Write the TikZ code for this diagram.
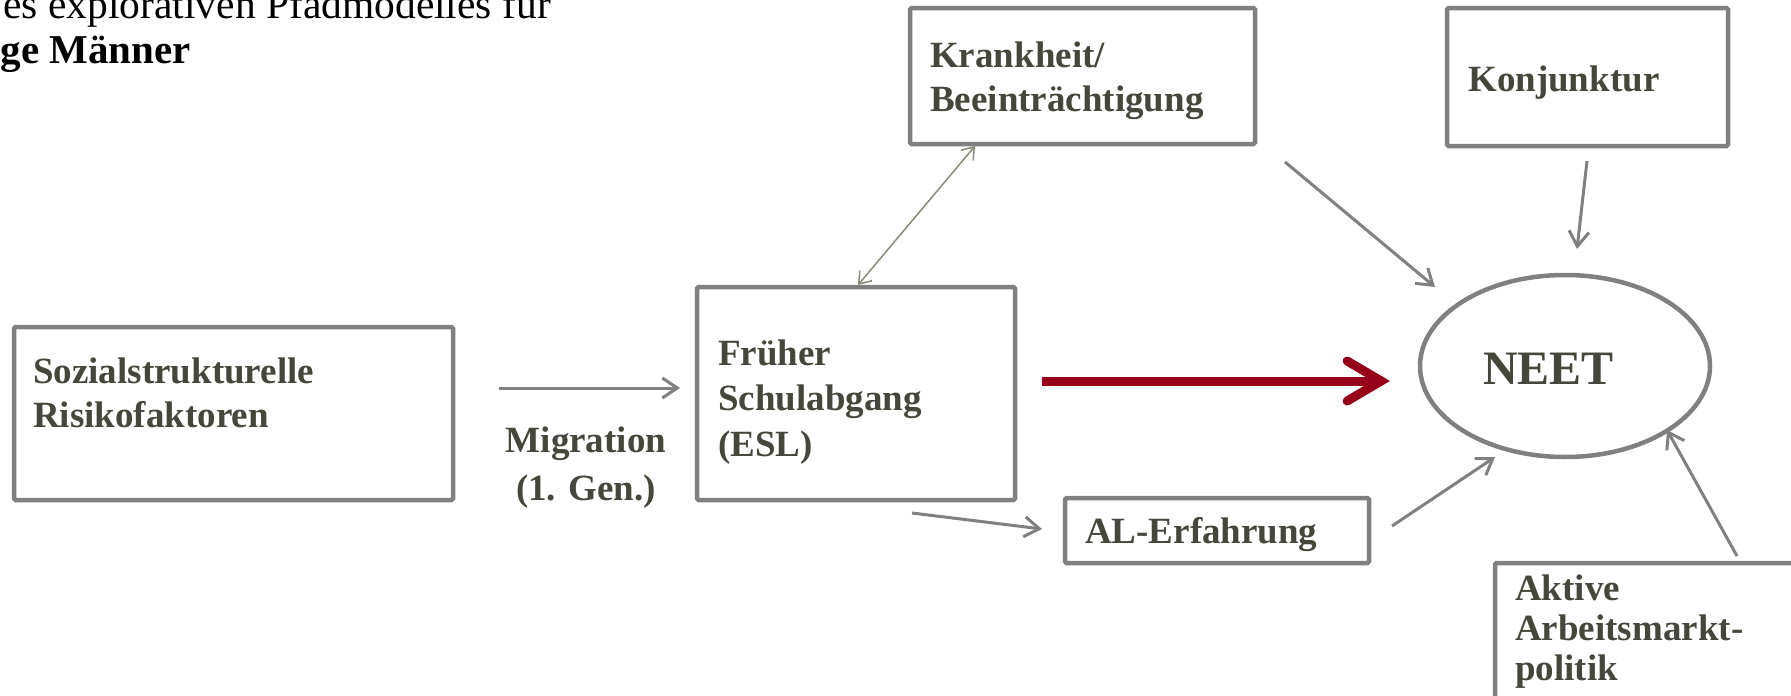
\documentclass[tikz,border=0pt]{standalone}
\usepackage{fontspec}
\setmainfont{Liberation Serif}
\usetikzlibrary{arrows.meta,shapes.geometric}
\definecolor{boxgray}{HTML}{808080}
\definecolor{txtolive}{HTML}{46463A}
\definecolor{linkolive}{HTML}{8A8A78}
\definecolor{neetred}{HTML}{960018}

\begin{document}
\begin{tikzpicture}
      [x = 1pt, y = -1pt,
      box/.style= {
         draw = boxgray,
         line width = 4.5pt,
         rounded corners = 1.5pt,
         inner sep = 0pt
      },
      lbl/.style= {
         anchor = base west,
         align = left,
         inner sep = 0pt,
         text = txtolive,
         font = \fontsize{37}{44}\selectfont\bfseries
      },
      arr/.style= {
         draw = boxgray,
         line width = 3pt,
         -{Straight Barb[length = 15pt, width = 20pt]}
      },
      mainarr/.style= {
         draw = neetred,
         line width = 9pt,
         -{Straight Barb[length = 34pt, width = 40pt, line cap = round]}
      },
      linkarr/.style= {
         draw = linkolive,
         line width = 1.5pt,
         {Straight Barb[length = 11pt, width = 16pt]}-{Straight Barb[length = 11pt, width = 16pt]}
      }]
      \clip (0, 0) rectangle (1791, 696);

      % heading, cut off at the page edge
      \node[anchor = base east, inner sep = 0pt, font = \fontsize{41.5}{44}\selectfont] (head1) at (551, 19) {es explorativen Pfadmodelles für};
      \node[anchor = base east, inner sep = 0pt, font = \fontsize{41}{44}\selectfont\bfseries] (head2) at (191, 63) {ge Männer};

      % boxes
      \node[box, minimum width = 439pt, minimum height = 173pt] (soz) at (233.5, 413.5) {};
      \node[box, minimum width = 318pt, minimum height = 213pt] (esl) at (856, 393.5) {};
      \node[box, minimum width = 345pt, minimum height = 136pt] (krank) at (1082.5, 76) {};
      \node[box, minimum width = 281pt, minimum height = 138pt] (konj) at (1587.5, 77) {};
      \node[box, minimum width = 304pt, minimum height = 65pt] (al) at (1217, 530.5) {};
      \node[box, minimum width = 405pt, minimum height = 197pt] (aktiv) at (1697.5, 661.5) {};
      \node[box, ellipse, minimum width = 290pt, minimum height = 182pt] (neet) at (1565, 366) {};

      % texts (base = baseline of the last line)
      \node[lbl] (sozlbl) at (33, 427) {Sozialstrukturelle\\Risikofaktoren};
      \node[lbl, font = \fontsize{37}{45.5}\selectfont\bfseries] (esllbl) at (718, 456) {Früher\\Schulabgang\\(ESL)};
      \node[lbl, anchor = base, align = center, font = \fontsize{37}{48}\selectfont\bfseries] (miglbl) at (586, 500) {Migration\\(1. Gen.)};
      \node[lbl] (kranklbl) at (930, 111) {Krankheit/\\Beeinträchtigung};
      \node[lbl] (konjlbl) at (1468, 91) {Konjunktur};
      \node[lbl] (allbl) at (1085, 543) {AL-Erfahrung};
      \node[lbl, font = \fontsize{37}{40}\selectfont\bfseries] (aktivlbl) at (1515, 680) {Aktive\\Arbeitsmarkt-\\politik};
      \node[lbl, font = \fontsize{48}{50}\selectfont\bfseries] (neetlbl) at (1483, 384) {NEET};

      % arrow ends
      \coordinate (soz-out) at (499, 388);
      \coordinate (esl-in) at (680, 388);
      \coordinate (esl-top) at (858, 285);
      \coordinate (krank-bot) at (975, 146);
      \coordinate (krank-out) at (1285, 162);
      \coordinate (neet-nw) at (1435, 287);
      \coordinate (konj-out) at (1587, 161);
      \coordinate (neet-n) at (1577, 249);
      \coordinate (esl-out) at (1042, 381);
      \coordinate (neet-w) at (1390, 381);
      \coordinate (esl-se) at (912, 513);
      \coordinate (al-in) at (1042, 529);
      \coordinate (al-out) at (1392, 526);
      \coordinate (neet-sw) at (1495, 457);
      \coordinate (aktiv-out) at (1737, 556);
      \coordinate (neet-se) at (1667, 430);

      \draw[arr] (soz-out) -- (esl-in);
      \draw[linkarr] (esl-top) -- (krank-bot);
      \draw[arr] (krank-out) -- (neet-nw);
      \draw[arr] (konj-out) -- (neet-n);
      \draw[mainarr] (esl-out) -- (neet-w);
      \draw[arr] (esl-se) -- (al-in);
      \draw[arr] (al-out) -- (neet-sw);
      \draw[arr] (aktiv-out) -- (neet-se);
\end{tikzpicture}
\end{document}
